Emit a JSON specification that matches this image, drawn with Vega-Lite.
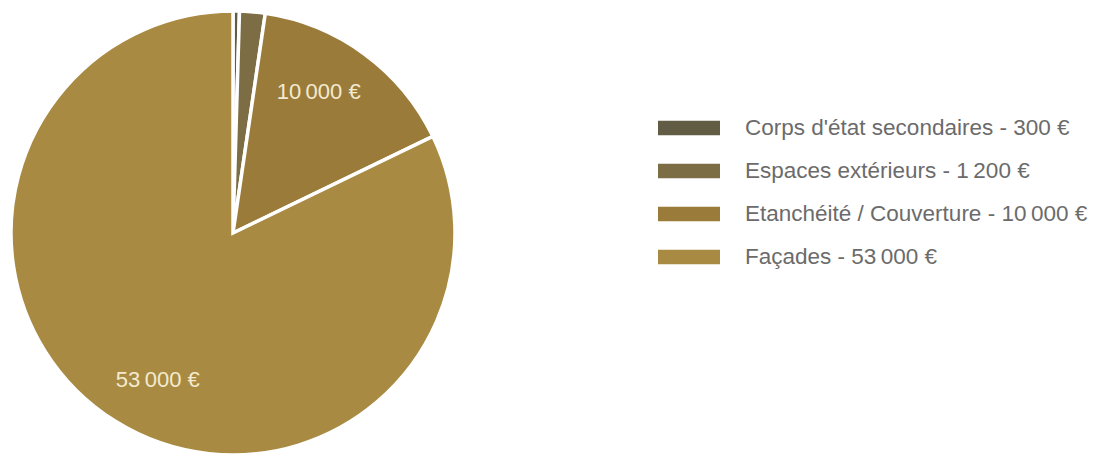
{
  "$schema": "https://vega.github.io/schema/vega-lite/v6.json",
  "width": 466,
  "height": 456,
  "padding": {"top": 4, "left": 0, "right": 0, "bottom": 0},
  "autosize": {"type": "pad"},
  "background": "white",
  "view": {"stroke": null},
  "data": {
    "values": [
      {"order": 1, "category": "Corps d'état secondaires - 300 €", "value": 300, "label": ""},
      {"order": 2, "category": "Espaces extérieurs - 1\u2009200 €", "value": 1200, "label": ""},
      {"order": 3, "category": "Etanchéité / Couverture - 10\u2009000 €", "value": 10000, "label": "10\u2009000 €"},
      {"order": 4, "category": "Façades - 53\u2009000 €", "value": 53000, "label": "53\u2009000 €"}
    ]
  },
  "encoding": {
    "theta": {"field": "value", "type": "quantitative", "stack": true},
    "order": {"field": "order", "type": "quantitative"}
  },
  "layer": [
    {
      "mark": {"type": "arc", "outerRadius": 222, "stroke": "white", "strokeWidth": 3.5},
      "encoding": {
        "color": {
          "field": "category",
          "type": "nominal",
          "sort": null,
          "scale": {"range": ["#625c44", "#7d6d44", "#9b7b3a", "#a98a42"]},
          "legend": {
            "title": null,
            "orient": "none",
            "legendX": 658,
            "legendY": 92,
            "symbolType": "M-1,-0.23H1V0.23H-1Z",
            "symbolSize": 3844,
            "symbolStrokeWidth": 0,
            "labelFont": "Liberation Sans",
            "labelFontSize": 22.5,
            "labelColor": "#6b6b6b",
            "labelOffset": 25,
            "rowPadding": -2.7,
            "labelLimit": 500
          }
        }
      }
    },
    {
      "mark": {"type": "text", "radius": 165, "thetaOffset": -0.087, "font": "Liberation Sans", "fontSize": 22, "color": "#f3ead0"},
      "encoding": {
        "text": {"field": "label", "type": "nominal"}
      }
    }
  ]
}
